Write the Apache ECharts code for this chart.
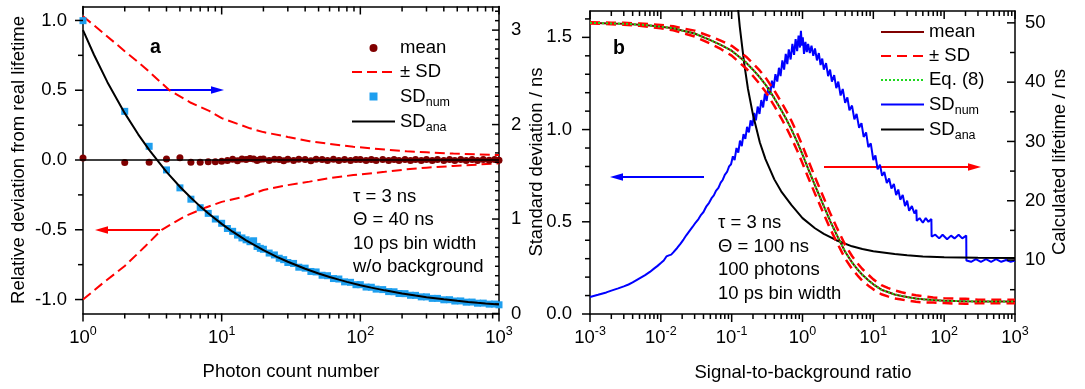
<!DOCTYPE html>
<html><head><meta charset="utf-8">
<script src="https://cdn.jsdelivr.net/npm/echarts@6/dist/echarts.min.js"></script>
<style>html,body{margin:0;padding:0;background:#fff}#c{width:1085px;height:389px}</style>
</head><body><div id="c"></div>
<script>
// ---------------- Panel a data ----------------
const aMeanN = [1,2,3,4,5,6,7,8,9,10,11,12,13,14,15,16,17,18,19,20,22,24,26,28,30,33,36,40,44,48,53,58,64,70,77,85,93,100,110,120,130,145,160,175,190,210,230,250,275,300,330,360,400,440,480,530,580,640,700,770,850,930,1000];
const aMeanV = [0.014,-0.018,-0.016,0.007,0.016,-0.017,-0.016,-0.013,-0.012,-0.009,-0.004,0.005,-0.006,0.008,0.004,0.010,0.007,-0.003,0.005,0.008,
  -0.004,0.006,0.003,-0.006,0.005,-0.004,0.006,0.004,-0.005,0.005,0.003,-0.004,0.005,-0.003,0.004,-0.004,0.004,0.003,-0.004,0.004,
  -0.003,0.004,-0.004,0.003,-0.003,0.004,-0.004,0.003,-0.003,0.004,-0.003,0.003,-0.004,0.003,-0.003,0.004,-0.003,0.003,-0.003,0.003,-0.002,0.003,-0.002];
const aNumN = aMeanN;
const aNumV = [3.10,2.14,1.77,1.52,1.33,1.21,1.12,1.06,1.00,0.955,0.90,0.87,0.83,0.80,0.78,0.76,0.77,0.71,0.69,0.68,
  0.64,0.62,0.585,0.57,0.54,0.53,0.49,0.48,0.445,0.44,0.405,0.40,0.37,0.365,0.335,0.33,0.305,0.305,0.28,0.278,
  0.258,0.253,0.232,0.230,0.212,0.210,0.193,0.192,0.176,0.176,0.160,0.160,0.145,0.146,0.132,0.133,0.120,0.121,0.109,0.110,0.099,0.100,0.092];
const aAnaN = [1,1.2,1.5,2,2.5,3,4,5,6,7,8,10,12,15,20,25,30,40,50,60,70,80,100,120,150,200,250,300,400,500,600,700,800,1000];
const aAnaV = [3.0,2.739,2.449,2.121,1.897,1.732,1.5,1.342,1.225,1.134,1.061,0.949,0.866,0.775,0.671,0.6,0.548,0.474,0.424,0.387,0.359,0.335,0.3,0.274,0.245,0.212,0.19,0.173,0.15,0.134,0.122,0.113,0.106,0.095];
const aSdUpN = [1,1.4,2,2.8,4.2,6,8.2,10,16,20,30,43,60,89,150,215,300,468,700,1000];
const aSdUpV = [1.03,0.91,0.78,0.66,0.5,0.41,0.35,0.3,0.227,0.2,0.165,0.135,0.115,0.095,0.075,0.062,0.055,0.046,0.04,0.035];
const aSdLoN = [1,1.4,2,2.8,3.7,5.5,7.7,10,15,20,30,43,60,89,150,215,300,468,700,1000];
const aSdLoV = [-1.0,-0.88,-0.76,-0.62,-0.5,-0.4,-0.34,-0.3,-0.26,-0.215,-0.18,-0.155,-0.13,-0.108,-0.085,-0.067,-0.055,-0.043,-0.033,-0.024];
const aZeroN = [1,1000];
const aZeroV = [0,0];

// ---------------- Panel b data ----------------
const bX = [0.001,0.0015,0.002,0.003,0.005,0.007,0.01,0.015,0.02,0.03,0.05,0.07,0.1,0.13,0.16,0.2,0.25,0.3,0.4,0.5,0.6,0.7,0.85,1,1.2,1.5,2,2.5,3,4,5,6,7,8.5,10,13,16,20,25,30,40,50,70,100,150,200,300,500,700,1000];
const bMean = [50.0,49.95,49.9,49.85,49.7,49.55,49.35,49.1,48.7,48.2,47.1,46.3,45.3,44.2,43.3,42.1,40.8,39.6,37.3,35.3,33.6,32.0,29.8,27.8,25.4,22.6,19.1,16.4,14.4,11.4,9.6,8.4,7.5,6.6,5.9,5.0,4.6,4.2,3.95,3.75,3.5,3.38,3.25,3.15,3.08,3.04,3.02,3.0,3.0,3.0];
const bEq8 = [50.0,49.95,49.9,49.85,49.7,49.55,49.35,49.1,48.7,48.2,47.1,46.3,45.3,44.2,43.3,42.1,40.8,39.6,37.3,35.3,33.6,32.0,29.8,27.8,25.4,22.6,19.1,16.4,14.4,11.4,9.6,8.4,7.5,6.6,5.9,5.0,4.6,4.2,3.95,3.75,3.5,3.38,3.25,3.15,3.08,3.04,3.02,3.0,3.0,3.0];
const bUpper = [50.09,50.06,50.03,50.0,49.9,49.78,49.63,49.44,49.1,48.69,47.72,47.0,46.13,45.13,44.29,43.16,41.93,40.79,38.59,36.65,35.0,33.45,31.26,29.28,26.84,24.0,20.46,17.7,15.64,12.56,10.68,9.42,8.49,7.52,6.74,5.77,5.32,4.87,4.57,4.33,4.05,3.89,3.67,3.56,3.5,3.46,3.31,3.29,3.29,3.29];
const bLower = [49.91,49.84,49.77,49.7,49.5,49.32,49.07,48.76,48.3,47.71,46.48,45.6,44.47,43.27,42.31,41.04,39.67,38.41,36.01,33.95,32.2,30.55,28.34,26.32,23.96,21.2,17.74,15.1,13.16,10.24,8.52,7.38,6.51,5.68,5.06,4.23,3.88,3.53,3.33,3.17,2.95,2.87,2.83,2.74,2.66,2.62,2.73,2.71,2.71,2.71];
const bNumX = [0.001,0.0013,0.0017,0.002,0.0025,0.003,0.0035,0.004,0.005,0.006,0.007,0.008,0.009,0.010,0.011,0.012,0.013,0.014,0.015,0.017,0.019,0.021,0.023,0.025,0.028,0.031,0.034,0.037,0.040,0.044,0.048,0.052,0.056,0.060,0.065,0.070,0.075,0.080,0.086,0.092,0.098,
  0.104,0.110,0.117,0.124,0.131,0.139,0.147,0.156,0.165,0.175,0.185,0.196,0.208,0.22,0.233,0.247,0.262,0.278,0.295,0.312,0.33,0.35,0.37,0.39,0.415,0.44,0.465,0.49,0.52,0.55,0.58,0.61,0.64,0.68,0.72,0.76,0.80,0.84,0.88,0.92,0.95,0.98,1.01,1.05,1.1,1.15,1.2,1.27,1.34,1.42,1.5,1.6,1.7,1.8,1.9,2.0,2.15,2.3,2.45,2.6,2.8,3.0,3.2,3.45,3.7,4.0,4.3,4.6,5.0,5.4,5.8,6.3,6.8,7.3,7.9,8.5,9.2,10,10.7,11.5,12.4,13.3,14.3,15.5,16.7,18,19.5,21,22.5,24,26,28,30,32,35,38,40.5,
  41,45,50,55,60,66,66.5,75,85,95,110,125,140,160,180,205,206,240,280,330,390,460,540,640,750,870,1000];
const bNumY = [0.092,0.104,0.117,0.127,0.139,0.150,0.160,0.171,0.193,0.211,0.228,0.246,0.261,0.276,0.290,0.312,0.318,0.322,0.334,0.358,0.382,0.405,0.428,0.447,0.472,0.496,0.515,0.538,0.553,0.584,0.603,0.628,0.643,0.668,0.684,0.712,0.728,0.755,0.770,0.800,0.812,
  0.855,0.835,0.90,0.875,0.94,0.91,0.975,0.95,1.015,0.985,1.05,1.02,1.09,1.05,1.125,1.085,1.16,1.12,1.195,1.155,1.23,1.19,1.265,1.225,1.30,1.26,1.335,1.29,1.375,1.325,1.41,1.355,1.435,1.38,1.465,1.405,1.49,1.425,1.51,1.445,1.535,1.455,1.50,1.41,1.475,1.42,1.465,1.415,1.455,1.40,1.44,1.375,1.415,1.35,1.385,1.325,1.36,1.29,1.325,1.26,1.295,1.225,1.26,1.185,1.22,1.145,1.175,1.105,1.13,1.055,1.085,1.01,1.035,0.96,0.985,0.905,0.925,0.835,0.86,0.785,0.81,0.75,0.77,0.71,0.735,0.68,0.705,0.645,0.675,0.62,0.645,0.585,0.615,0.56,0.585,0.545,0.565,
  0.505,0.52,0.495,0.52,0.50,0.515,0.42,0.43,0.41,0.43,0.405,0.425,0.41,0.43,0.41,0.425,0.29,0.283,0.297,0.283,0.297,0.283,0.297,0.283,0.293,0.283,0.29];
const bAnaX = [0.08,0.09,0.1,0.11,0.12,0.13,0.15,0.17,0.2,0.25,0.3,0.4,0.5,0.7,1,1.5,2,3,5,7,10,20,30,50,100,300,1000];
const bAnaY = [2.8,2.4,2.1,1.88,1.70,1.56,1.36,1.22,1.08,0.93,0.84,0.73,0.665,0.59,0.52,0.465,0.435,0.40,0.367,0.352,0.34,0.325,0.318,0.312,0.308,0.305,0.304];

// ---------------- tick values / labels ----------------
const aXMajor = [1,10,100,1000];
const aXMinor = [2,3,4,5,6,7,8,9,20,30,40,50,60,70,80,90,200,300,400,500,600,700,800,900];
const bXMajor = [0.001,0.01,0.1,1,10,100,1000];
const bXMinor = [0.002,0.003,0.004,0.005,0.006,0.007,0.008,0.009,0.02,0.03,0.04,0.05,0.06,0.07,0.08,0.09,0.2,0.3,0.4,0.5,0.6,0.7,0.8,0.9,2,3,4,5,6,7,8,9,20,30,40,50,60,70,80,90,200,300,400,500,600,700,800,900];
const aLeftLabels = [-1,-0.5,0,0.5,1];
const aLeftMinor = [-0.75,-0.25,0.25,0.75];
const aRightLabels = [0,1,2,3];
const aRightMinor = [0.1,0.2,0.3,0.4,0.5,0.6,0.7,0.8,0.9,1.1,1.2,1.3,1.4,1.5,1.6,1.7,1.8,1.9,2.1,2.2,2.3,2.4,2.5,2.6,2.7,2.8,2.9,3.1,3.2];
const bLeftLabels = [0,0.5,1,1.5];
const bLeftMinor = [0.1,0.2,0.3,0.4,0.6,0.7,0.8,0.9,1.1,1.2,1.3,1.4,1.6];
const bRightLabels = [10,20,30,40,50];
const bRightMinor = [5,15,25,35,45];

const FONT = '"Liberation Sans", Arial, sans-serif';
const FS = 18.5;
const pair = (xs, ys) => xs.map((x, i) => [x, ys[i]]);
const near = (v, step) => Math.abs(v / step - Math.round(v / step)) < 1e-6;

function xAx(gridIndex, position, min, max, showLabel) {
  return {
    type: 'log', logBase: 10, gridIndex, position, min, max,
    axisLine: {show: true, onZero: false, lineStyle: {color: '#000', width: 1.5}},
    axisTick: {show: false}, splitLine: {show: false}, minorTick: {show: false},
    axisLabel: showLabel ? {
      margin: 12,
      formatter: v => '{b|10}{s|' + Math.round(Math.log10(v)) + '}',
      rich: {
        b: {fontSize: FS, fontFamily: FONT, color: '#000', lineHeight: 24},
        s: {fontSize: 12.5, fontFamily: FONT, color: '#000', lineHeight: 12, padding: [0, 0, 12, 0]}
      }
    } : {show: false}
  };
}
function yAx(gridIndex, position, min, max, labels, fmt, margin) {
  return {
    type: 'value', gridIndex, position, min, max,
    axisLine: {show: true, onZero: false, lineStyle: {color: '#000', width: 1.5}},
    axisTick: {show: false}, splitLine: {show: false}, minorTick: {show: false},
    axisLabel: {customValues: labels, formatter: fmt, margin, fontSize: FS, fontFamily: FONT, color: '#000'}
  };
}
// tick marks drawn through the axes' own scales
function xTicks(xi, yi, values, yRef, len) {
  return {
    type: 'custom', xAxisIndex: xi, yAxisIndex: yi, clip: false, silent: true, z: 20,
    data: values.map(v => [v, yRef]),
    renderItem: (params, api) => {
      const cs = params.coordSys;
      const px = api.coord([api.value(0), api.value(1)])[0];
      const b = cs.y + cs.height, t = cs.y;
      const st = {stroke: '#000', lineWidth: 1.5};
      return {type: 'group', children: [
        {type: 'line', shape: {x1: px, y1: b, x2: px, y2: b + len}, style: st},
        {type: 'line', shape: {x1: px, y1: t, x2: px, y2: t + len}, style: st}
      ]};
    }
  };
}
function yTicks(xi, yi, values, xRef, len, side) {
  return {
    type: 'custom', xAxisIndex: xi, yAxisIndex: yi, clip: false, silent: true, z: 20,
    data: values.map(v => [xRef, v]),
    renderItem: (params, api) => {
      const cs = params.coordSys;
      const py = api.coord([api.value(0), api.value(1)])[1];
      let x1, x2;
      if (side === 'leftOut') { x1 = cs.x - len; x2 = cs.x; }
      else { x1 = cs.x + cs.width - len; x2 = cs.x + cs.width; }
      return {type: 'line', shape: {x1, y1: py, x2, y2: py}, style: {stroke: '#000', lineWidth: 1.5}};
    }
  };
}
function T(text, x, y, o = {}) {
  return {type: 'text', x, y, rotation: o.rot || 0, z: 100, silent: true,
    style: {text, fontSize: o.size || FS, fontWeight: o.bold ? 'bold' : 'normal', fontFamily: FONT, fill: '#000',
      align: o.align || 'left', textAlign: o.align || 'left', verticalAlign: 'middle', textVerticalAlign: 'middle'}};
}
function arrow(xTail, xTip, y, color) {
  const d = xTip > xTail ? 1 : -1, hl = 13, hw = 3.8;
  return {type: 'group', z: 100, silent: true, children: [
    {type: 'line', shape: {x1: xTail, y1: y, x2: xTip - d * hl * 0.7, y2: y}, style: {stroke: color, lineWidth: 2}},
    {type: 'polygon', shape: {points: [[xTip, y], [xTip - d * hl, y - hw], [xTip - d * hl, y + hw]]}, style: {fill: color}}
  ]};
}
const legendNames = {a_mean: 'mean', a_sd: '± SD', a_num: 'SD{sub|num}', a_ana: 'SD{sub|ana}',
  b_mean: 'mean', b_sd: '± SD', b_eq: 'Eq. (8)', b_num: 'SD{sub|num}', b_ana: 'SD{sub|ana}'};
const legendText = {fontSize: FS, fontFamily: FONT, color: '#000', lineHeight: 24,
  rich: {sub: {fontSize: 12.5, fontFamily: FONT, color: '#000', lineHeight: 12, padding: [12, 0, 0, 0]}}};
const hideSym = {opacity: 0};
const hideLine = {opacity: 0, width: 0};

const option = {
  animation: false,
  backgroundColor: '#fff',
  grid: [
    {left: 83, top: 6.5, width: 416, height: 307, containLabel: false},
    {left: 590, top: 11, width: 425, height: 303, containLabel: false}
  ],
  xAxis: [
    xAx(0, 'bottom', 1, 1000, true),
    xAx(0, 'top', 1, 1000, false),
    xAx(1, 'bottom', 0.001, 1000, true),
    xAx(1, 'top', 0.001, 1000, false)
  ],
  yAxis: [
    yAx(0, 'left', -1.1, 1.1, aLeftLabels, v => near(v, 0.5) ? v.toFixed(1) : '', 16),
    yAx(0, 'right', 0, 3.25, aRightLabels, v => near(v, 1) ? String(Math.round(v)) : '', 12),
    yAx(1, 'left', 0, 1.643, bLeftLabels, v => near(v, 0.5) ? v.toFixed(1) : '', 18),
    yAx(1, 'right', 0.9, 52, bRightLabels, v => near(v, 10) ? String(Math.round(v)) : '', 10)
  ],
  legend: [
    {orient: 'vertical', left: 351, top: 36, padding: 0, itemWidth: 43, itemHeight: 10, itemGap: 0, selectedMode: false,
      formatter: n => legendNames[n], textStyle: legendText,
      data: [{name: 'a_mean'}, {name: 'a_sd', itemStyle: hideSym}, {name: 'a_num'}, {name: 'a_ana', itemStyle: hideSym}]},
    {orient: 'vertical', left: 880, top: 20, padding: 0, itemWidth: 43, itemHeight: 10, itemGap: 0, selectedMode: false,
      formatter: n => legendNames[n], textStyle: legendText,
      data: [{name: 'b_mean', itemStyle: hideSym}, {name: 'b_sd', itemStyle: hideSym}, {name: 'b_eq', itemStyle: hideSym},
             {name: 'b_num', itemStyle: hideSym}, {name: 'b_ana', itemStyle: hideSym}]}
  ],
  series: [
    // panel a
    {name: 'a_sd', type: 'line', xAxisIndex: 0, yAxisIndex: 0, data: pair(aSdUpN, aSdUpV), symbol: 'none',
      lineStyle: {color: '#ff0000', width: 2, type: [10, 5]}, itemStyle: {color: '#ff0000'}, z: 2},
    {name: 'a_sd', type: 'line', xAxisIndex: 0, yAxisIndex: 0, data: pair(aSdLoN, aSdLoV), symbol: 'none',
      lineStyle: {color: '#ff0000', width: 2, type: [10, 5]}, itemStyle: {color: '#ff0000'}, z: 2},
    {name: 'a_num', type: 'line', xAxisIndex: 0, yAxisIndex: 1, data: pair(aNumN, aNumV), symbol: 'rect', symbolSize: 7,
      lineStyle: hideLine, itemStyle: {color: '#1e9fef'}, z: 3},
    {name: 'a_ana', type: 'line', xAxisIndex: 0, yAxisIndex: 1, data: pair(aAnaN, aAnaV), symbol: 'none',
      lineStyle: {color: '#000', width: 2}, itemStyle: {color: '#000'}, z: 4},
    {name: 'a_mean', type: 'line', xAxisIndex: 0, yAxisIndex: 0, data: pair(aMeanN, aMeanV), symbol: 'circle', symbolSize: 7,
      lineStyle: hideLine, itemStyle: {color: '#800000'}, z: 5},
    {name: 'zero', type: 'line', xAxisIndex: 0, yAxisIndex: 0, data: pair(aZeroN, aZeroV), symbol: 'none',
      lineStyle: {color: '#000', width: 1.5}, z: 6},
    // panel b
    {name: 'b_num', type: 'line', xAxisIndex: 2, yAxisIndex: 2, data: pair(bNumX, bNumY), symbol: 'none',
      lineStyle: {color: '#0000ff', width: 2}, itemStyle: {color: '#0000ff'}, z: 2},
    {name: 'b_ana', type: 'line', xAxisIndex: 2, yAxisIndex: 2, data: pair(bAnaX, bAnaY), symbol: 'none',
      lineStyle: {color: '#000', width: 2}, itemStyle: {color: '#000'}, z: 3},
    {name: 'b_mean', type: 'line', xAxisIndex: 2, yAxisIndex: 3, data: pair(bX, bMean), symbol: 'none',
      lineStyle: {color: '#800000', width: 2}, itemStyle: {color: '#800000'}, z: 4},
    {name: 'b_sd', type: 'line', xAxisIndex: 2, yAxisIndex: 3, data: pair(bX, bUpper), symbol: 'none',
      lineStyle: {color: '#ff0000', width: 2.5, type: [10, 6]}, itemStyle: {color: '#ff0000'}, z: 5},
    {name: 'b_sd', type: 'line', xAxisIndex: 2, yAxisIndex: 3, data: pair(bX, bLower), symbol: 'none',
      lineStyle: {color: '#ff0000', width: 2.5, type: [10, 6]}, itemStyle: {color: '#ff0000'}, z: 5},
    {name: 'b_eq', type: 'line', xAxisIndex: 2, yAxisIndex: 3, data: pair(bX, bEq8), symbol: 'none',
      lineStyle: {color: '#1ed81e', width: 2, type: [2, 2]}, itemStyle: {color: '#1ed81e'}, z: 6},
    // ticks
    xTicks(0, 0, aXMajor, 0, 8), xTicks(0, 0, aXMinor, 0, 5),
    xTicks(2, 2, bXMajor, 0.5, 8), xTicks(2, 2, bXMinor, 0.5, 5),
    yTicks(0, 0, aLeftLabels, 1, 8, 'leftOut'), yTicks(0, 0, aLeftMinor, 1, 5, 'leftOut'),
    yTicks(0, 1, aRightLabels, 1, 7, 'rightIn'), yTicks(0, 1, aRightMinor, 1, 4, 'rightIn'),
    yTicks(2, 2, bLeftLabels, 1, 8, 'leftOut'), yTicks(2, 2, bLeftMinor, 1, 5, 'leftOut'),
    yTicks(2, 3, bRightLabels, 1, 8, 'rightIn'), yTicks(2, 3, bRightMinor, 1, 5, 'rightIn')
  ],
  graphic: {elements: [
    T('a', 150, 48, {bold: true, size: 19.5}),
    T('b', 613, 49, {bold: true, size: 19.5}),
    T('τ = 3 ns', 353, 197), T('Θ = 40 ns', 353, 220), T('10 ps bin width', 353, 243.5), T('w/o background', 353, 267),
    T('τ = 3 ns', 718, 223), T('Θ = 100 ns', 718, 246.5), T('100 photons', 718, 270), T('10 ps bin width', 718, 293.5),
    T('Photon count number', 291, 372, {align: 'center'}),
    T('Signal-to-background ratio', 803, 373, {align: 'center'}),
    T('Relative deviation from real lifetime', 19, 160, {align: 'center', rot: Math.PI / 2}),
    T('Standard deviation / ns', 537, 162, {align: 'center', rot: Math.PI / 2}),
    T('Calculated lifetime / ns', 1060, 162, {align: 'center', rot: Math.PI / 2}),
    arrow(137, 224, 90, '#0000ff'),
    arrow(160, 95, 230, '#ff0000'),
    arrow(704, 610, 177, '#0000ff'),
    arrow(824, 981, 167, '#ff0000')
  ]}
};
const chart = echarts.init(document.getElementById('c'));
chart.setOption(option);
</script></body></html>
